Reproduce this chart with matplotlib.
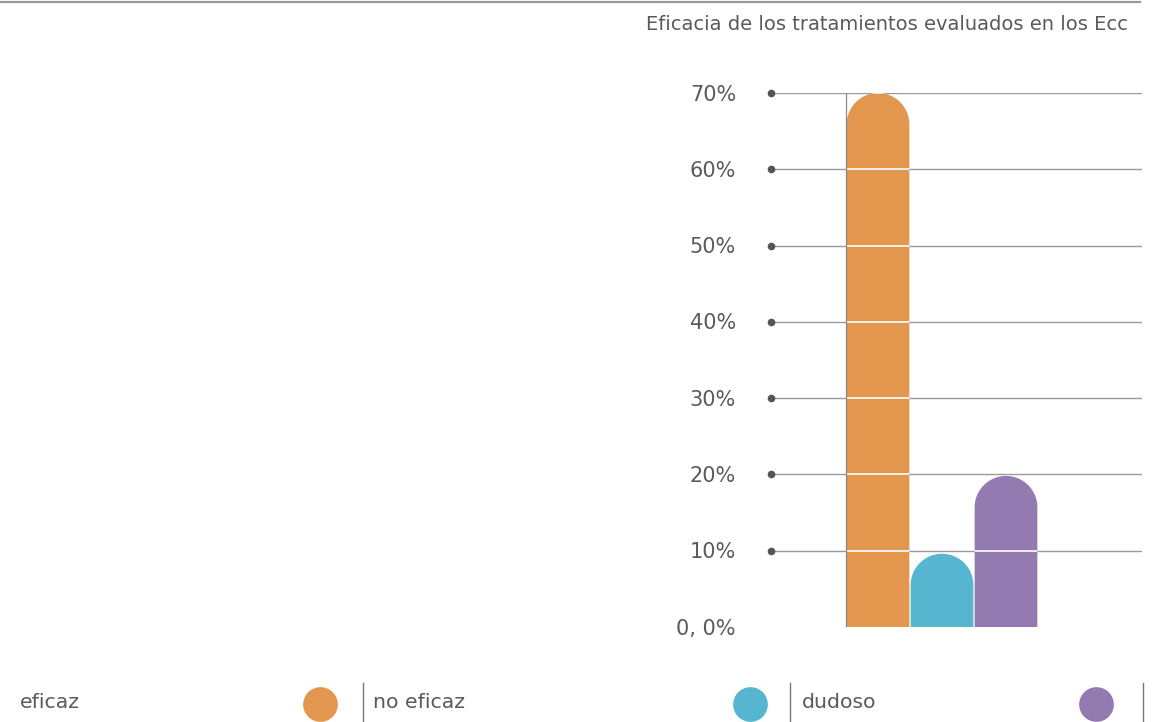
import numpy as np
import matplotlib
matplotlib.use('Agg')
import matplotlib.pyplot as plt
from matplotlib.path import Path
from matplotlib.patches import PathPatch
from matplotlib.lines import Line2D

categories = ['eficaz', 'no eficaz', 'dudoso']
values = [70, 9.6, 19.8]
colors = ['#E3964D', '#56B6CF', '#937AB1']
yticks = [0, 10, 20, 30, 40, 50, 60, 70]
ytick_labels = ['0, 0%', '10%', '20%', '30%', '40%', '50%', '60%', '70%']
title = 'Eficacia de los tratamientos evaluados en los Ecc'

plt.rcParams['font.family'] = ['DejaVu Sans']
TXT = '#5a5a5a'

W, H = 1153, 722
fig = plt.figure(figsize=(W / 100, H / 100), dpi=100)

def fx(px):
    return px / W

def fy(py):
    return 1 - py / H

ax_l, ax_r, ax_b, ax_t = 771, 1142, 627, 93
ax = fig.add_axes([fx(ax_l), fy(ax_b), (ax_r - ax_l) / W, (ax_b - ax_t) / H])
ax.set_ylim(0, 70)
bar_px = 64
xlim = (-0.5 - (846 - ax_l) / bar_px, 2.5 + (ax_r - 1038) / bar_px)
ax.set_xlim(*xlim)
ax.axis('off')

# gridlines and dots
ax.hlines(yticks[1:], xlim[0], xlim[1], color='#9a9a9a', lw=1, zorder=1)
ax.plot([xlim[0]] * len(yticks[1:]), yticks[1:], 'o', ms=4.5, color='#555555',
        clip_on=False, zorder=2)
ytrans = ax.get_yaxis_transform()
lab_x = (736 - ax_l) / (ax_r - ax_l)
for t, lab in zip(yticks, ytick_labels):
    ax.text(lab_x, t - 0.2, lab, transform=ytrans, ha='right',
            va='center', fontsize=15, color=TXT)

# rounded bars
p0 = ax.transData.transform((0, 0))
p1 = ax.transData.transform((1, 1))
sx, sy = p1[0] - p0[0], p1[1] - p0[1]
hw = 0.49
ry = hw * sx / sy
theta = np.linspace(np.pi, 0, 60)
for i, (v, c) in enumerate(zip(values, colors)):
    xs = [i - hw, i - hw] + list(i + hw * np.cos(theta)) + [i + hw]
    ys = [0, v - ry] + list(v - ry + ry * np.sin(theta)) + [0]
    verts = list(zip(xs, ys)) + [(i - hw, 0)]
    codes = [Path.MOVETO] + [Path.LINETO] * (len(verts) - 2) + [Path.CLOSEPOLY]
    patch = PathPatch(Path(verts, codes), facecolor=c, edgecolor='none', zorder=2.5)
    ax.add_patch(patch)
    wl = ax.hlines(yticks[1:], i - 0.5, i + 0.5, color='white', lw=1.2, zorder=3)
    wl.set_clip_path(patch)

ax.vlines(-0.5, 0, 70, color='#888888', lw=0.9, zorder=4)

# title and top rule
fig.add_artist(Line2D([0, fx(1140)], [fy(2), fy(2)], color='#999999', lw=1.6))
fig.text(fx(1128), fy(24), title, ha='right', va='center', fontsize=14, color=TXT)

# legend
leg_text_x = [20, 373, 802]
leg_circ_x = [320, 750, 1096]
leg_sep_x = [363, 790, 1143]
for lab, c, tx, cx, sxp in zip(categories, colors, leg_text_x, leg_circ_x, leg_sep_x):
    fig.text(fx(tx), fy(703), lab, ha='left', va='center', fontsize=14.7, color=TXT)
    fig.add_artist(Line2D([fx(cx)], [fy(704)], marker='o', ms=25, color=c,
                          markeredgecolor='none'))
    fig.add_artist(Line2D([fx(sxp), fx(sxp)], [fy(683), fy(721)], color='#777777', lw=1))

fig.savefig('out.png', dpi=100)
